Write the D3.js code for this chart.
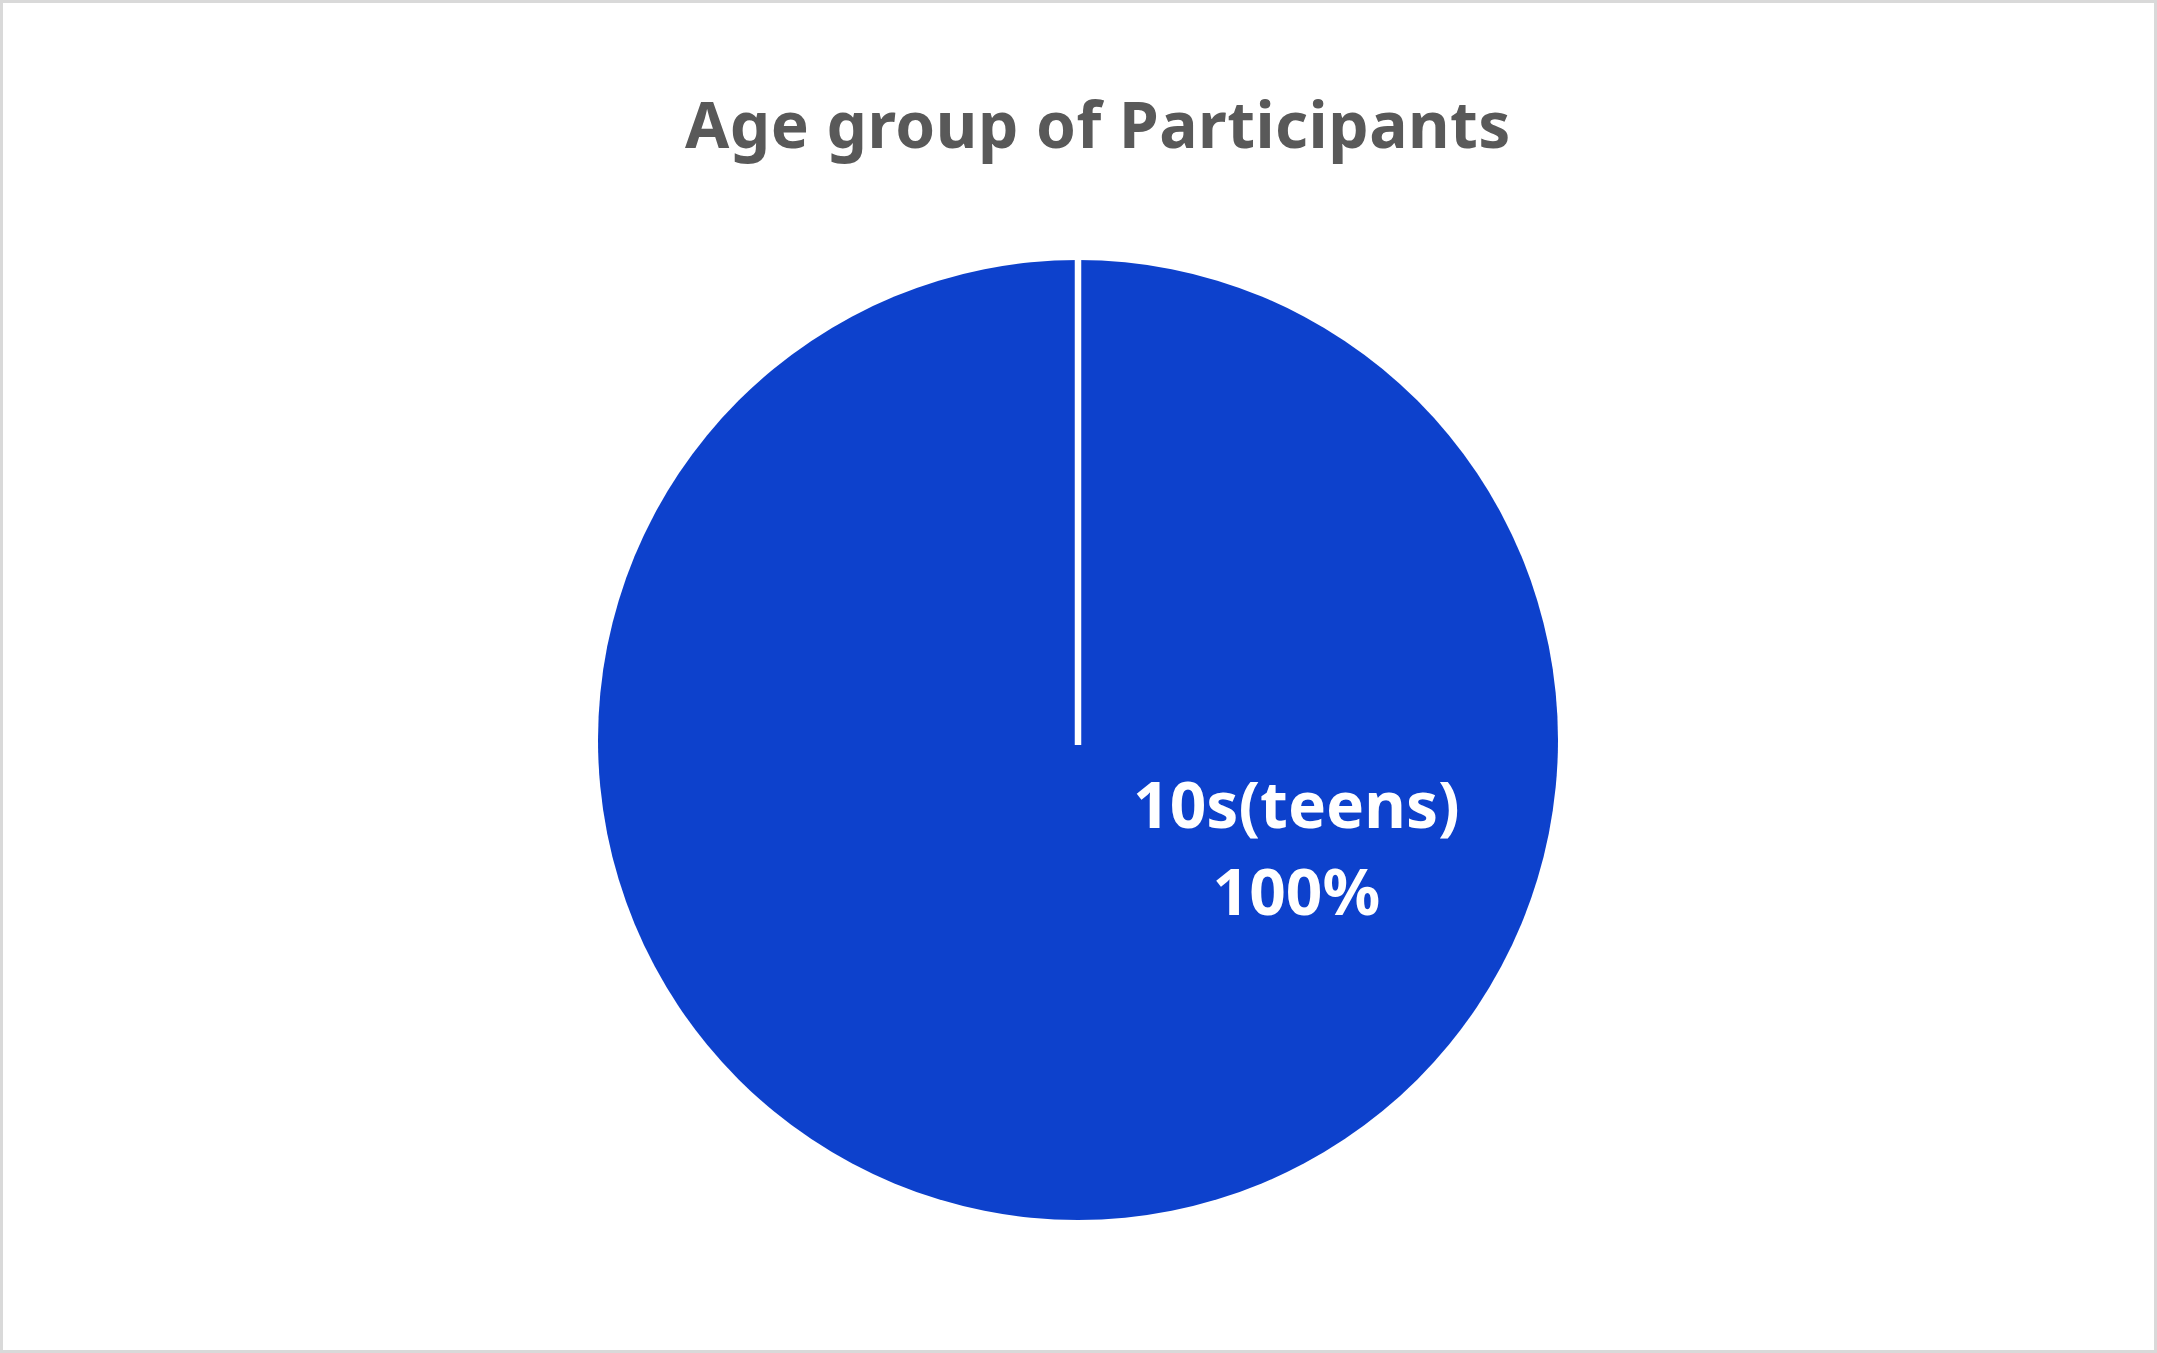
<!DOCTYPE html>
<html>
<head>
<meta charset="utf-8">
<script src="https://cdn.jsdelivr.net/npm/d3@7"></script>
<style>
    html, body { margin: 0; padding: 0; background: #ffffff; }
    svg { display: block; }
</style>
</head>
<body>
<div id="pie-div"></div>
<script>
// chart data
const categories = ["10s(teens)"];
const values = [100];
const chartTitle = "Age group of Participants";

const WIDTH = 2157;
const HEIGHT = 1353;
const CENTER_X = 1078;
const CENTER_Y = 740;
const RADIUS = 480;
const FONT = "'Noto Sans', 'Open Sans', sans-serif";

let rows = categories.map((c, i) => ({ category: c, value: values[i] }));
let total = d3.sum(values);

let svg = d3.select("#pie-div")
    .append("svg")
    .attr("width", WIDTH)
    .attr("height", HEIGHT);

// chart frame
svg.append("rect")
    .attr("x", 1.5)
    .attr("y", 1.5)
    .attr("width", WIDTH - 3)
    .attr("height", HEIGHT - 3)
    .attr("fill", "#ffffff")
    .attr("stroke", "#d9d9d9")
    .attr("stroke-width", 3);

// title
svg.append("text")
    .attr("x", 1098)
    .attr("y", 148)
    .attr("text-anchor", "middle")
    .style("font-family", FONT)
    .style("font-weight", "bold")
    .style("font-size", "64px")
    .style("letter-spacing", "0.5px")
    .attr("fill", "#595959")
    .text(chartTitle);

let color = d3.scaleOrdinal()
    .domain(categories)
    .range(["#0d41cc"]);

let pie = d3.pie()
    .value(d => d.value)
    .sort(null);

let arc = d3.arc()
    .innerRadius(0)
    .outerRadius(RADIUS);

let g = svg.append("g")
    .attr("transform", "translate(" + CENTER_X + "," + CENTER_Y + ")");

let slices = pie(rows);

g.selectAll("path")
    .data(slices)
    .enter()
    .append("path")
    .attr("d", arc)
    .attr("fill", d => color(d.data.category));

// slice border (radial edge at start angle)
g.selectAll("line.edge")
    .data(slices)
    .enter()
    .append("line")
    .classed("edge", true)
    .attr("x1", d => -Math.sin(d.startAngle) * 5)
    .attr("y1", d => Math.cos(d.startAngle) * 5)
    .attr("x2", d => Math.sin(d.startAngle) * (RADIUS + 2))
    .attr("y2", d => -Math.cos(d.startAngle) * (RADIUS + 2))
    .attr("stroke", "#ffffff")
    .attr("stroke-width", 6.5);

// data labels
let labels = g.selectAll("text.label")
    .data(slices)
    .enter()
    .append("text")
    .classed("label", true)
    .attr("text-anchor", "middle")
    .attr("transform", "translate(" + (RADIUS * 0.455) + "," + (RADIUS * 0.183) + ")")
    .style("font-family", FONT)
    .style("font-weight", "bold")
    .style("font-size", "64px")
    .attr("fill", "#ffffff");

labels.append("tspan")
    .attr("x", 0)
    .attr("y", 0)
    .text(d => d.data.category);

labels.append("tspan")
    .attr("x", 0)
    .attr("y", 87)
    .text(d => Math.round(d.data.value / total * 100) + "%");
</script>
</body>
</html>
